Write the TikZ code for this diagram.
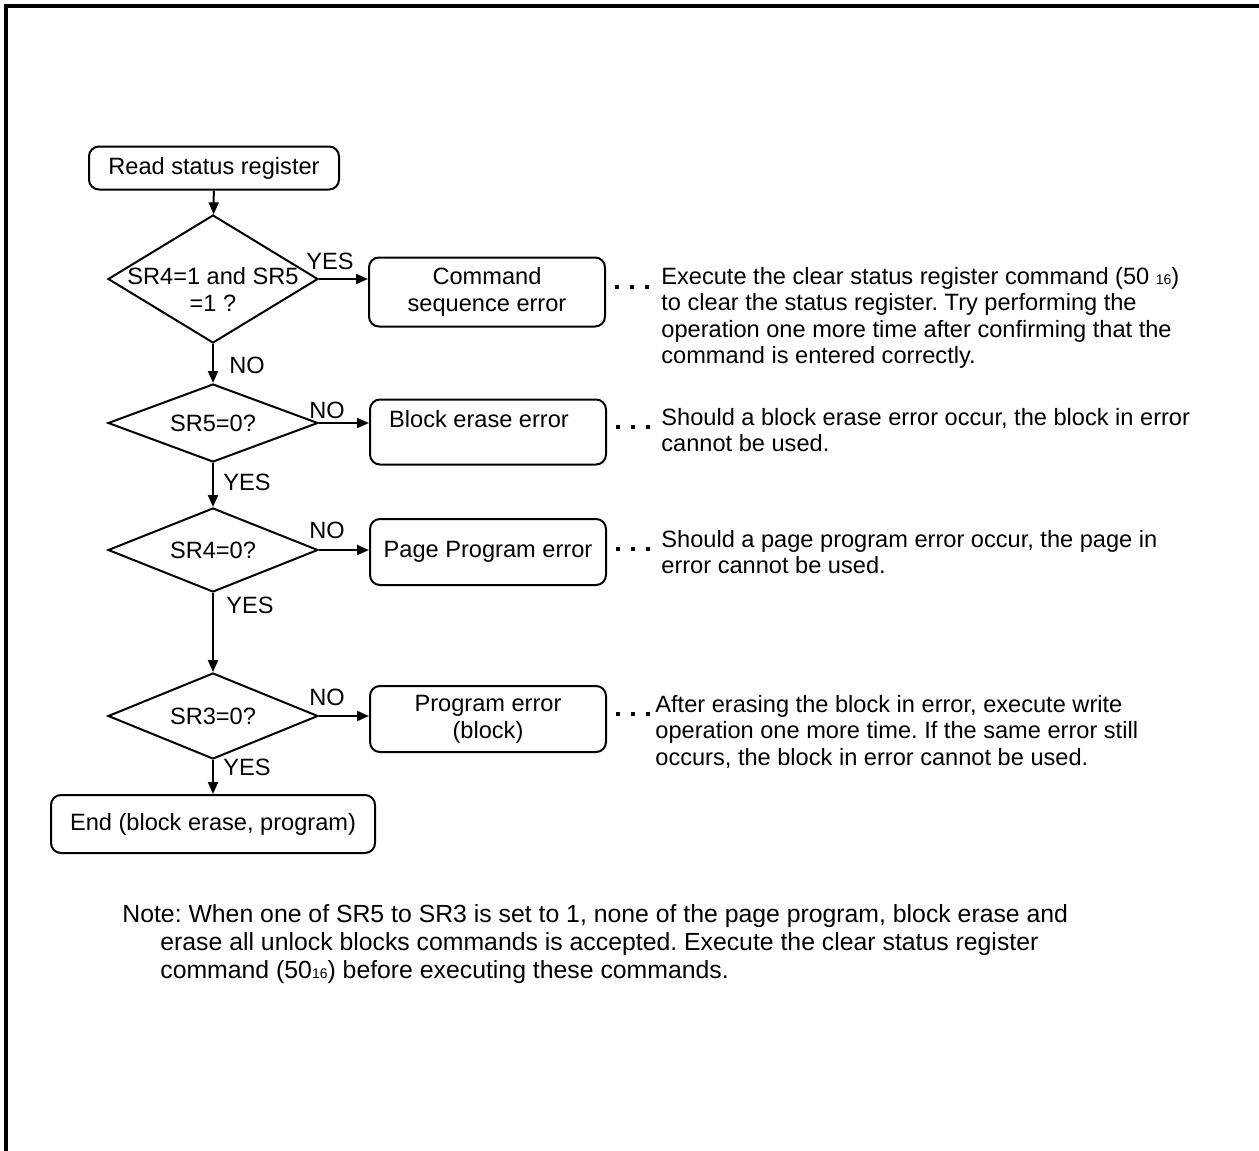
\documentclass[tikz,border=0pt]{standalone}
\usepackage{fontspec}
\setmainfont{Liberation Sans}
\usetikzlibrary{shapes.geometric,arrows.meta}
\frenchspacing

\begin{document}
\begin{tikzpicture}[x=0.5pt, y=-0.5pt,
  every node/.style={font=\fontsize{11.8}{13.5}\selectfont, inner sep=0pt},
  proc/.style={draw, line width=1pt, rounded corners=5pt, align=center,
    minimum width=118pt, minimum height=33pt},
  decision/.style={draw, diamond, line width=1pt, minimum width=105pt, minimum height=40pt},
  flow/.style={line width=1pt, -{Triangle[length=6pt,width=5pt]}},
  dots/.style={line width=1.6pt, dash pattern=on 2pt off 5.5pt, shorten <=4.5pt, shorten >=2pt},
  desc/.style={anchor=north west, align=left, font=\fontsize{11.8}{13.2}\selectfont}]
\useasboundingbox (0,0) rectangle (1259,1151);
\draw[line width=2pt] (6,1151) -- (6,6) -- (1259,6);

% main column
\node[proc, minimum width=125pt, minimum height=21.5pt] (start) at (214,168) {Read status register};
\node[decision, minimum height=64pt, label={[yshift=-5pt,align=center]center:{SR4=1 and SR5\\=1 ?}}] (sr45) at (213,279) {};
\node[decision, minimum height=39pt, label=center:{SR5=0?}] (sr5) at (213,423) {};
\node[decision, minimum height=42pt, label=center:{SR4=0?}] (sr4) at (213,550) {};
\node[decision, minimum height=43pt, label=center:{SR3=0?}] (sr3) at (213,716) {};
\node[proc, minimum width=162pt, minimum height=29pt] (finish) at (213,824) {End (block erase, program)};

% error boxes
\node[proc, minimum height=34.5pt] (cmdseq) at (487,292) {Command\\sequence error};
\node[proc, minimum height=32.5pt] (blkerr) at (488,432) {Block erase error\hspace*{9pt}\\\mbox{}};
\node[proc] (pagerr) at (488,552) {Page Program error};
\node[proc] (prgerr) at (488,719) {Program error\\(block)};

% remarks
\node[desc] (rem1) at (661,267) {Execute the clear status register command (50 {\scriptsize 16})\\to clear the status register. Try performing the\\operation one more time after confirming that the\\command is entered correctly.};
\node[desc] (rem2) at (661,408) {Should a block erase error occur, the block in error\\cannot be used.};
\node[desc] (rem3) at (661,530) {Should a page program error occur, the page in\\error cannot be used.};
\node[desc] (rem4) at (655,695) {After erasing the block in error, execute write\\operation one more time. If the same error still\\occurs, the block in error cannot be used.};

\draw[flow] (start) -- (sr45);
\draw[flow] (sr45) -- (sr5);
\draw[flow] (sr5) -- (sr4);
\draw[flow] (sr4) -- (sr3);
\draw[flow] (sr3) -- (finish);
\draw[flow] (sr45.east) -- (sr45.east -| cmdseq.west);
\draw[flow] (sr5.east) -- (sr5.east -| blkerr.west);
\draw[flow] (sr4.east) -- (sr4.east -| pagerr.west);
\draw[flow] (sr3.east) -- (sr3.east -| prgerr.west);
\draw[dots] (cmdseq.east) ++(0,-5) -- (rem1.west |- 0,287);
\draw[dots] (blkerr.east) ++(0,-5) -- (rem2.west |- 0,427);
\draw[dots] (pagerr.east) ++(0,-3) -- (rem3.west |- 0,549);
\draw[dots] (prgerr.east) ++(0,-5) -- (rem4.west |- 0,714);

\node (yes1) at (330,261) {YES};
\node (no1) at (247,365) {NO};
\node (no2) at (327,410) {NO};
\node (yes2) at (247,482) {YES};
\node (no3) at (327,530) {NO};
\node (yes3) at (250,605) {YES};
\node (no4) at (327,697) {NO};
\node (yes4) at (247,767) {YES};

\node[anchor=north west, align=left, font=\fontsize{12.4}{14}\selectfont] (note) at (122,904)
  {Note: When one of SR5 to SR3 is set to 1, none of the page program, block erase and\\
   \hspace*{19pt}erase all unlock blocks commands is accepted. Execute the clear status register\\
   \hspace*{19pt}command (50{\scriptsize 16}) before executing these commands.};
\end{tikzpicture}
\end{document}
